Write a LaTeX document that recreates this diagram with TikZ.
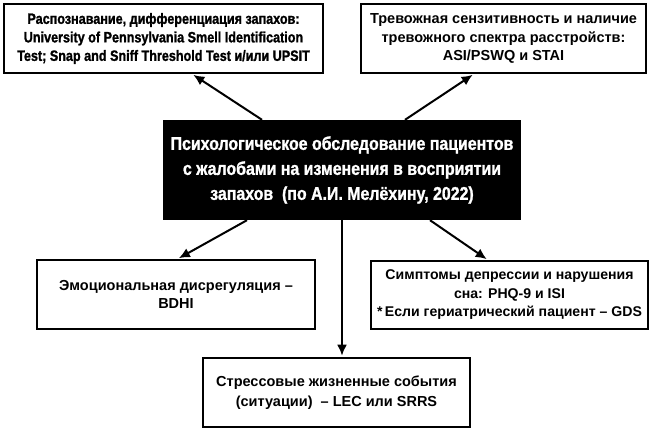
\documentclass[tikz,border=0pt]{standalone}
\usepackage{fontspec}
\setmainfont{Liberation Sans}
\newfontfamily\narrowfont[FakeStretch=0.84,FakeBold=1.2]{Liberation Sans Bold}
\newfontfamily\wideNarrowfont[FakeStretch=0.86,FakeBold=1.2]{Liberation Sans Bold}
\usepackage{tikz}
\usetikzlibrary{arrows.meta,positioning}
\tikzset{
    %Define standard arrow tip
    >={Latex[length=11pt,width=10pt]},
    font=\bfseries\fontsize{14.5}{18.5}\selectfont,
    %Define style for boxes
    kasten/.style={
           rectangle,
           draw=black, line width=2.6pt,
           fill=white,
           inner sep=2pt,
           align=center},
    % Define style for the central box
    haupt/.style={
           rectangle,
           fill=black,
           text=white,
           minimum width=358pt,
           minimum height=100pt,
           align=center,
           font=\wideNarrowfont\fontsize{18.5}{25}\selectfont},
    % Define arrow style
    pil/.style={
	   ->,
	   line width=2pt,
	   shorten >=1pt}
}
\begin{document}
\begin{tikzpicture}[x=1pt,y=-1pt]
  \useasboundingbox (0,0) rectangle (652,430);
  \node[haupt] (main) at (342,170) {Психологическое обследование пациентов\\с жалобами на изменения в восприятии\\запахов\ \ (по А.И. Мелёхину, 2022)};
  \node[kasten,minimum width=319pt,minimum height=69pt,font=\narrowfont\fontsize{15}{18.5}\selectfont] (smell) at (163.5,38.5)
    {Распознавание, дифференциация запахов:\\University of Pennsylvania Smell Identification\\Test; Snap and Sniff Threshold Test и/или UPSIT};
  \node[kasten,minimum width=285pt,minimum height=69pt] (anx) at (503.5,38.5)
    {Тревожная сензитивность и наличие\\тревожного спектра расстройств:\\ASI/PSWQ и STAI};
  \node[kasten,minimum width=278pt,minimum height=69pt] (emo) at (176,294.5)
    {Эмоциональная дисрегуляция --\\BDHI};
  \node[kasten,minimum width=277pt,minimum height=68pt,font=\bfseries\fontsize{14.1}{18.5}\selectfont] (dep) at (509.5,295)
    {Симптомы депрессии и нарушения\\сна: PHQ-9 и ISI\\*\,Если гериатрический пациент -- GDS};
  \node[kasten,minimum width=267pt,minimum height=69pt,font=\bfseries\fontsize{14.5}{20}\selectfont] (stress) at (336.5,392.5)
    {Стрессовые жизненные события\\(ситуации)\ \ -- LEC или SRRS};
  \draw[pil] ([xshift=-80pt]main.north) -- ([xshift=29pt]smell.south);
  \draw[pil] ([xshift=63pt]main.north) -- ([xshift=-30pt]anx.south);
  \draw[pil] ([xshift=-95pt]main.south) -- ([xshift=2pt]emo.north);
  \draw[pil] ([xshift=88pt]main.south) -- ([xshift=-22pt]dep.north);
  \draw[pil] (main.south) -- ([xshift=5.5pt]stress.north);
\end{tikzpicture}
\end{document}
